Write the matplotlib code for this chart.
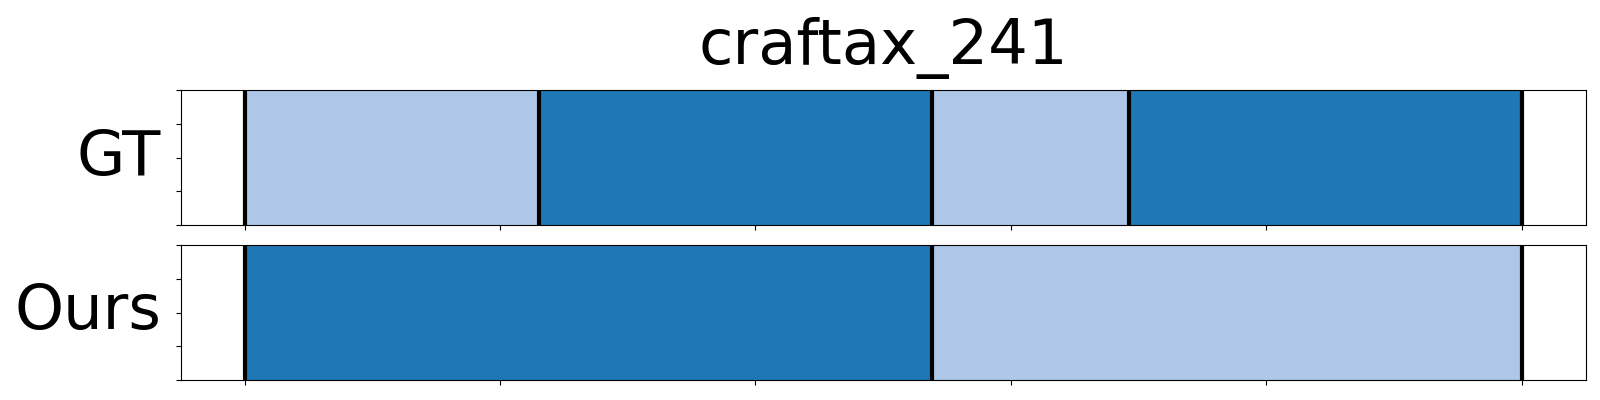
import numpy as np
import matplotlib
matplotlib.use("Agg")
import matplotlib.pyplot as plt

title = "craftax_241"
total_frames = 13

# segment boundaries (frame index) and class id per segment
gt_bounds = [0, 3, 7, 9, 13]
gt_classes = [1, 0, 1, 0]
ours_bounds = [0, 7, 13]
ours_classes = [0, 1]

row_names = ["GT", "Ours"]
class_colors = ["#1f77b4", "#aec7e8"]


def draw_segments(ax, bounds, classes):
    b = np.array(bounds) / total_frames
    for i, c in enumerate(classes):
        ax.axvspan(b[i], b[i + 1], ymin=0, ymax=1, color=class_colors[c], lw=0)
    for x in b:
        ax.axvline(x, color="black", lw=3)
    ax.set_ylim(0, 1)
    ax.set_yticks(np.linspace(0, 1, 5))
    ax.set_yticklabels([])
    ax.set_xticks(np.linspace(0, 1, 6))
    ax.set_xticklabels([])


fig = plt.figure(figsize=(16, 4), dpi=100)
ax1 = fig.add_axes([0.113, 0.4375, 0.878, 0.3375])
ax2 = fig.add_axes([0.113, 0.05, 0.878, 0.3375])

draw_segments(ax1, gt_bounds, gt_classes)
draw_segments(ax2, ours_bounds, ours_classes)

for ax, name in zip([ax1, ax2], row_names):
    ax.set_xlim(-0.05, 1.05)
    ax.set_ylabel(name, fontsize=45, rotation=0, ha="right", va="center")
    ax.yaxis.set_label_coords(-0.014, 0.5)

ax1.set_title(title, fontsize=45, pad=19)

fig.savefig("out.png", dpi=100)
